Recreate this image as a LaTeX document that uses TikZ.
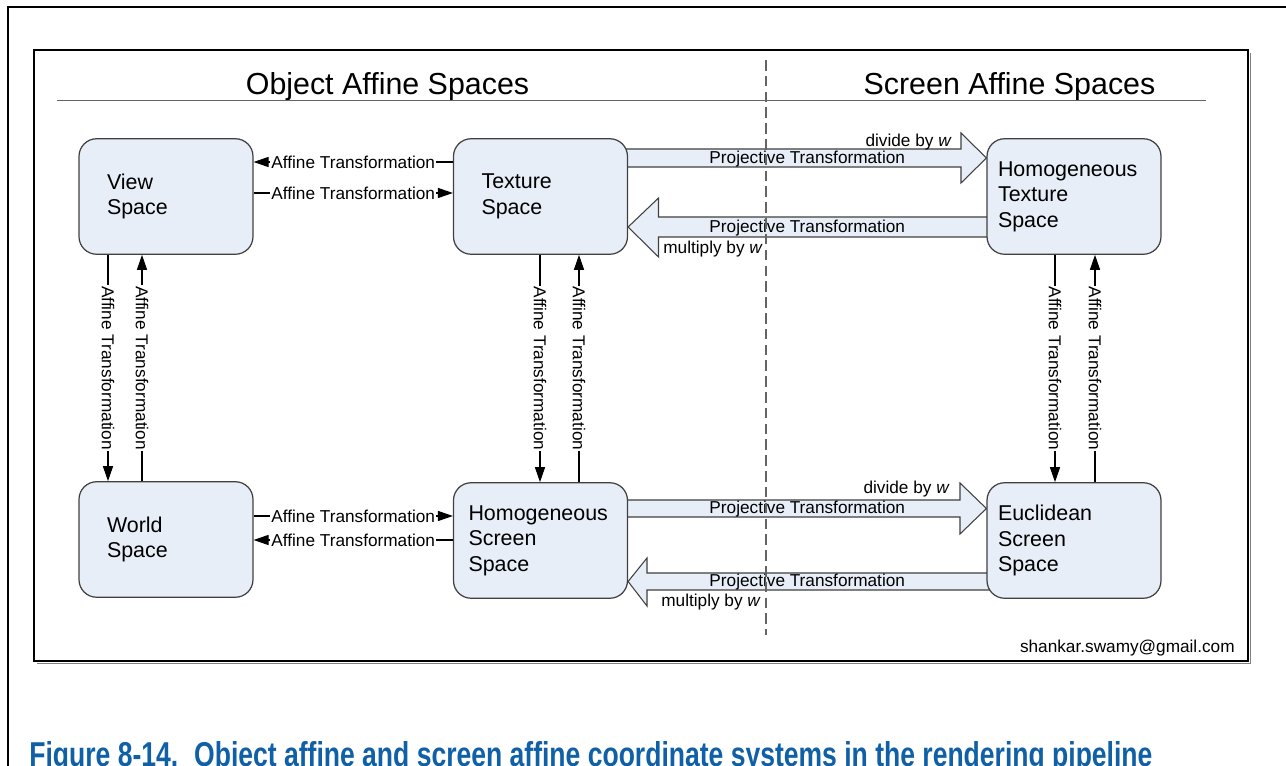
\documentclass[tikz,border=0pt]{standalone}
\usepackage{fontspec}
\setmainfont{Liberation Sans}
\usetikzlibrary{arrows.meta,backgrounds,calc}
\definecolor{boxfill}{RGB}{232,238,247}
\definecolor{boxline}{RGB}{64,64,64}
\definecolor{rulegray}{RGB}{100,100,100}
\definecolor{capblue}{RGB}{16,96,168}

\begin{document}
\begin{tikzpicture}[x=0.02cm, y=-0.02cm,
		spacebox/.style={draw=boxline, line width=0.7pt, fill=boxfill, rounded corners=10pt, minimum width=3.48cm, minimum height=2.31cm, align=left, font=\fontsize{12.2}{14.5}\selectfont, inner xsep=0.56cm, text width=2.36cm},
		affline/.style={draw=black, line width=0.6pt, -{Triangle[length=8.5pt,width=5.7pt]}},
		afflabel/.style={fill=white, inner sep=0.6pt, font=\fontsize{9.8}{11}\selectfont},
		projarrow/.style={draw=boxline, line width=0.6pt, fill=boxfill, line join=miter},
		projlabel/.style={inner sep=0pt, font=\fontsize{9.8}{11}\selectfont},
		header/.style={anchor=base, inner sep=0pt, font=\fontsize{17.3}{20}\selectfont}]
				\useasboundingbox (0,0) rectangle (1286,766);
				\clip (0,0) rectangle (1286,766);
				
				% frames
				\draw[line width=0.8pt] (8,790) -- (8,7) -- (1300,7);
				\draw[black!50, line width=1pt] (37,663.5) -- (1250.5,663.5) -- (1250.5,53);
				\draw[line width=1.4pt] (34,50) rectangle (1248,661);
				
				\node[header] (objhead) at (387.5,95) {Object Affine Spaces};
				\node[header] (scrhead) at (1009.5,95) {Screen Affine Spaces};
				\draw[rulegray, line width=0.6pt] (57,100.5) -- (1206,100.5);
				
				% spaces
				\node[spacebox] (view) at (166,196.5) {View\\Space};
				\node[spacebox] (texture) at (540.5,196.5) {Texture\\Space};
				\node[spacebox, inner xsep=0.22cm, text width=3.04cm] (hometex) at (1074,196.5) {Homogeneous\\Texture\\Space};
				\node[spacebox] (world) at (166,539.5) {World\\Space};
				\node[spacebox, inner xsep=0.3cm, text width=2.88cm] (homscreen) at (540.5,540.5) {Homogeneous\\Screen\\Space};
				\node[spacebox, inner xsep=0.22cm, text width=3.04cm] (euclid) at (1074,540.5) {Euclidean\\Screen\\Space};
				
				% affine transformations
				\draw[affline] (texture.west |- 0,162) -- node[afflabel]{Affine Transformation} (view.east |- 0,162);
				\draw[affline] (view.east |- 0,193) -- node[afflabel]{Affine Transformation} (texture.west |- 0,193);
				\draw[affline] (world.east |- 0,516) -- node[afflabel]{Affine Transformation} (homscreen.west |- 0,516);
				\draw[affline] (homscreen.west |- 0,540) -- node[afflabel]{Affine Transformation} (world.east |- 0,540);
				
				\draw[affline] (view.south -| 108,0) -- node[afflabel, rotate=-90]{Affine Transformation} (world.north -| 108,0);
				\draw[affline] (world.north -| 142,0) -- node[afflabel, rotate=-90]{Affine Transformation} (view.south -| 142,0);
				\draw[affline] (texture.south -| 540,0) -- node[afflabel, rotate=-90]{Affine Transformation} (homscreen.north -| 540,0);
				\draw[affline] (homscreen.north -| 579,0) -- node[afflabel, rotate=-90]{Affine Transformation} (texture.south -| 579,0);
				\draw[affline] (hometex.south -| 1055,0) -- node[afflabel, rotate=-90]{Affine Transformation} (euclid.north -| 1055,0);
				\draw[affline] (euclid.north -| 1095,0) -- node[afflabel, rotate=-90]{Affine Transformation} (hometex.south -| 1095,0);
				
				% projective transformations
				\begin{scope}[on background layer]
					\fill[white] (0,0) rectangle (1286,766);
					\draw[projarrow] ($(texture.east |- 0,149)+(-20,0)$) -- (961,149) -- (961,133) -- (hometex.west |- 0,158) -- (961,183) -- (961,167) -- ($(texture.east |- 0,167)+(-20,0)$) -- cycle;
					\draw[projarrow] ($(hometex.west |- 0,217)+(20,0)$) -- (658.5,217) -- (658.5,198) -- (texture.east |- 0,227) -- (658.5,257) -- (658.5,237) -- ($(hometex.west |- 0,237)+(20,0)$) -- cycle;
					\draw[projarrow] ($(homscreen.east |- 0,500)+(-20,0)$) -- (960,500) -- (960,483) -- (euclid.west |- 0,508.5) -- (960,534) -- (960,517) -- ($(homscreen.east |- 0,517)+(-20,0)$) -- cycle;
					\draw[projarrow] ($(euclid.west |- 0,573)+(20,0)$) -- (647,573) -- (647,558) -- (homscreen.east |- 0,581.5) -- (647,606) -- (647,590) -- ($(euclid.west |- 0,590)+(20,0)$) -- cycle;
				\end{scope}
				
				\path (texture.east |- 0,159) -- node[projlabel] (projtop) {Projective Transformation} (hometex.west |- 0,159);
				\path (hometex.west |- 0,228) -- node[projlabel] (projback) {Projective Transformation} (texture.east |- 0,228);
				\path (homscreen.east |- 0,509.5) -- node[projlabel] (projbot) {Projective Transformation} (euclid.west |- 0,509.5);
				\path (euclid.west |- 0,582.5) -- node[projlabel] (projbotback) {Projective Transformation} (homscreen.east |- 0,582.5);
				
				\node[projlabel, anchor=base east] (divtop) at (952,147) {divide by \textit{w}};
				\node[projlabel, anchor=base west] (multop) at (663,254) {multiply by \textit{w}};
				\node[projlabel, anchor=base east] (divbot) at (950,494) {divide by \textit{w}};
				\node[projlabel, anchor=base west] (mulbot) at (661,607) {multiply by \textit{w}};
				
				\draw[rulegray, line width=0.6pt, dash pattern=on 6pt off 3pt] (766,60) -- (766,635);
				
				\node[projlabel, anchor=base east] (mail) at (1235,653) {shankar.swamy@gmail.com};
				\node[anchor=base west, inner sep=0pt, text=capblue, font=\fontsize{15.1}{18}\selectfont\bfseries] (caption) at (29,767) {\scalebox{1}[1.3]{Figure 8-14.\hspace{0.6em}Object affine and screen affine coordinate systems in the rendering pipeline}};
			\end{tikzpicture}
\end{document}
